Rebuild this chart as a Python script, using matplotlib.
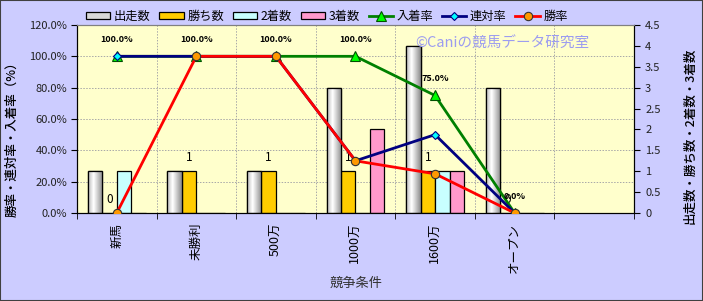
import numpy as np
import matplotlib
matplotlib.use("Agg")
import matplotlib.pyplot as plt
from matplotlib.patches import Rectangle

plt.rcParams['font.family'] = ['Noto Sans CJK JP', 'DejaVu Sans']

# データ
categories = ['新馬', '未勝利', '500万', '1000万', '1600万', 'オープン', '']
starts = [1, 1, 1, 3, 4, 3]
wins = [0, 1, 1, 1, 1, 0]
seconds = [1, 0, 0, 0, 1, 0]
thirds = [0, 0, 0, 2, 1, 0]
place_rate = [100.0, 100.0, 100.0, 100.0, 75.0, 0.0]
rentai_rate = [100.0, 100.0, 100.0, 33.3, 50.0, 0.0]
win_rate = [0.0, 100.0, 100.0, 33.3, 25.0, 0.0]

fig = plt.figure(figsize=(7.03, 3.01), dpi=100)
fig.patch.set_facecolor('#ccccff')
ax = fig.add_axes([0.1095, 0.2924, 0.7923, 0.6246])
ax2 = ax.twinx()
ax.set_zorder(ax2.get_zorder() + 1)
ax.patch.set_visible(False)
ax2.patch.set_visible(True)
ax2.set_facecolor('#ffffcc')

x = np.arange(len(starts))
w = 0.182

# グリッド（棒の後ろ）
for gy in np.arange(0.75, 4.5, 0.75):
    ax2.axhline(gy, color='#a8a8a8', ls=(0, (1.5, 1.5)), lw=0.7, zorder=0.5)
for gx in np.arange(0.5, 6.0, 1.0):
    ax2.axvline(gx, color='#a8a8a8', ls=(0, (1.5, 1.5)), lw=0.7, zorder=0.5)

b1 = ax2.bar(x - 1.5 * w, starts, w, color='#d8d8d8', edgecolor='black', lw=0.9, label='出走数', zorder=2)
b2 = ax2.bar(x - 0.5 * w, wins, w, color='#ffcc00', edgecolor='black', lw=0.9, label='勝ち数', zorder=2)
b3 = ax2.bar(x + 0.5 * w, seconds, w, color='#c8ffff', edgecolor='black', lw=0.9, label='2着数', zorder=2)
b4 = ax2.bar(x + 1.5 * w, thirds, w, color='#ff99cc', edgecolor='black', lw=0.9, label='3着数', zorder=2)

# 出走数の円柱風グラデーション
grad = np.concatenate([np.linspace(0.72, 1.0, 12), np.linspace(1.0, 0.55, 20)])[np.newaxis, :]
for p in b1:
    x0, y0, pw, ph = p.get_x(), p.get_y(), p.get_width(), p.get_height()
    if ph <= 0:
        continue
    im = ax2.imshow(grad, extent=[x0, x0 + pw, y0, y0 + ph], aspect='auto',
                    cmap='gray', vmin=0, vmax=1, zorder=2.05)
    im.set_clip_path(p)
    ax2.add_patch(Rectangle((x0, y0), pw, ph, fill=False, edgecolor='black', lw=0.9, zorder=2.1))

for i, v in enumerate(wins):
    ax2.annotate(str(v), (i - 0.5 * w, v), xytext=(0, 10), textcoords='offset points',
                 ha='center', va='center', fontsize=8.5, zorder=6)

l1, = ax.plot(x, place_rate, color='#008000', lw=2, marker='^', ms=7, mfc='#00ff00',
              mec='#005000', mew=0.8, label='入着率', zorder=3)
l2, = ax.plot(x, rentai_rate, color='#000080', lw=2, marker='D', ms=4.5, mfc='#00ffff',
              mec='#000080', mew=0.8, label='連対率', zorder=4)
l3, = ax.plot(x, win_rate, color='#ff0000', lw=2, marker='o', ms=6, mfc='#ff9900',
              mec='#333333', mew=0.8, label='勝率', zorder=5)

for i, v in enumerate(place_rate):
    ax.annotate(f'{v:.1f}%', (i, v), xytext=(0, 12), textcoords='offset points',
                ha='center', va='center', fontsize=6.5, fontweight='bold', zorder=7)

ax.set_xlim(-0.5, 6.5)
ax.set_ylim(0, 120)
ax2.set_ylim(0, 4.5)

ax.set_xticks(range(len(categories)))
ax.set_xticklabels(categories, rotation=90, fontsize=9)
ax.set_xticks(np.arange(-0.5, 7.0, 1.0), minor=True)
ax.tick_params(axis='x', which='major', length=0, pad=7)
ax.tick_params(axis='x', which='minor', length=4, direction='out')

ax.set_yticks(np.arange(0, 121, 20))
ax.set_yticklabels([f'{v:.1f}%' for v in np.arange(0, 121, 20)], fontsize=8, color='#222222')
ax.tick_params(axis='y', length=4, direction='out', pad=3)
ax2.set_yticks(np.arange(0, 4.51, 0.5))
ax2.set_yticklabels([f'{v:g}' for v in np.arange(0, 4.51, 0.5)], fontsize=8, color='#222222')
ax2.tick_params(axis='y', length=4, direction='out', pad=4)

for a in (ax, ax2):
    a.spines['left'].set_color('black')
    a.spines['bottom'].set_color('black')
    a.spines['right'].set_color('black')
    a.spines['top'].set_color('#808080')

ax.set_ylabel('勝率・連対率・入着率（%）', fontsize=9, fontweight='medium')
ax.yaxis.set_label_coords(-0.106, 0.41)
ax2.set_ylabel('出走数・勝ち数・2着数・3着数', fontsize=9, fontweight='medium', rotation=90)
ax2.yaxis.set_label_coords(1.088, 0.41)

fig.text(356 / 703, 1 - 283 / 301, '競争条件', ha='center', va='center', fontsize=9.5, color='#333333')
fig.text(415 / 703, 1 - 44 / 301, '©Caniの競馬データ研究室', ha='left', va='center',
         fontsize=10.5, color='#9c9cf0', zorder=10)

fig.legend([b1, b2, b3, b4, l1, l2, l3], ['出走数', '勝ち数', '2着数', '3着数', '入着率', '連対率', '勝率'],
           loc='center', bbox_to_anchor=(0.465, 0.945), ncol=7, frameon=False, fontsize=8.8,
           columnspacing=0.7, handletextpad=0.3, handlelength=2.0, handleheight=0.45)

fig.patches.append(Rectangle((0, 0), 1, 1, transform=fig.transFigure, fill=False,
                             edgecolor='#404040', lw=1.5))

fig.savefig('out.png', dpi=100, facecolor=fig.get_facecolor())
